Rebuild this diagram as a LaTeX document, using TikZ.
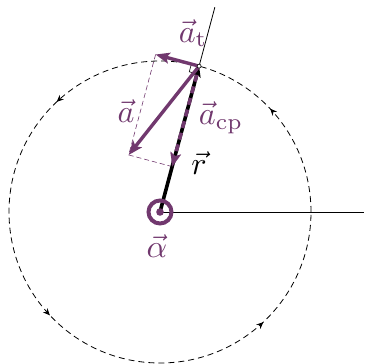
\documentclass[tikz,border=0pt]{standalone}
\usetikzlibrary{arrows.meta,calc,decorations.markings}
\definecolor{purp}{RGB}{113,56,110}
\begin{document}
\begin{tikzpicture}[x=1pt,y=1pt,
  thinline/.style={line width=0.8pt,black},
  vecarrow/.style={line width=3.4pt,purp,-{Stealth[length=14pt,width=11pt,inset=3pt]}},
  helper/.style={line width=0.6pt,purp,dash pattern=on 5pt off 3pt},
  lbl/.style={inner sep=0pt,scale=3.2},
  cmark/.style={decoration={markings,
     mark=at position 0.12 with {\arrow{Stealth[length=7pt,width=6pt]}},
     mark=at position 0.37 with {\arrow{Stealth[length=7pt,width=6pt]}},
     mark=at position 0.62 with {\arrow{Stealth[length=7pt,width=6pt]}},
     mark=at position 0.87 with {\arrow{Stealth[length=7pt,width=6pt]}}},
     postaction={decorate}}]
\useasboundingbox (-160,-152) rectangle (204,212);
\coordinate (O) at (0,0);
\coordinate (P) at (75:151);
\coordinate (Q) at (75:212);
\coordinate (E) at (204,0);
\coordinate (T) at ($(P)+(165:45)$);
\coordinate (C) at (75:47);
\coordinate (A) at ($(T)+(C)-(P)$);
% path circle
\draw[thinline,dash pattern=on 6pt off 4pt,cmark] (151,0) arc[start angle=0,end angle=360,radius=151];
% reference lines
\draw[thinline] (O) -- (E);
\draw[thinline] (P) -- (Q);
% parallelogram helpers
\draw[helper] (T) -- (A) -- (C);
% right angle mark
\draw[line width=0.6pt] ($(P)+(255:8)$) -- ($(P)+(255:8)+(165:8)$) -- ($(P)+(165:8)$);
% r vector
\draw[line width=3.6pt,black,-{Stealth[length=11pt,width=9pt,inset=3pt]}] (O) -- (P);
% a_cp vector
\draw[line width=3.6pt,purp,dash pattern=on 7pt off 5pt,shorten <=9pt] (P) -- (C);
\draw[purp,line width=0.1pt,-{Stealth[length=14pt,width=11pt,inset=3pt]}] ($(C)!0.05!(P)$) -- (C);
% a_t and a
\draw[vecarrow] (P) -- (T);
\draw[vecarrow] (P) -- (A);
% point marker
\draw[line width=0.6pt,fill=white] (P) circle[radius=2pt];
% alpha symbol
\draw[purp,line width=4pt] (O) circle[radius=11.5pt];
\fill[purp] (O) circle[radius=3.8pt];
% labels
\node[lbl,purp] (lat) at (33,179) {$\vec{a}_{\mathrm{t}}$};
\node[lbl,purp] (la) at (-34,101) {$\vec{a}$};
\node[lbl,purp] (lacp) at (61,94) {$\vec{a}_{\mathrm{cp}}$};
\node[lbl,black] (lr) at (39,49) {$\vec{r}$};
\node[lbl,purp] (lal) at (-3,-34) {$\vec{\alpha}$};
\end{tikzpicture}
\end{document}
